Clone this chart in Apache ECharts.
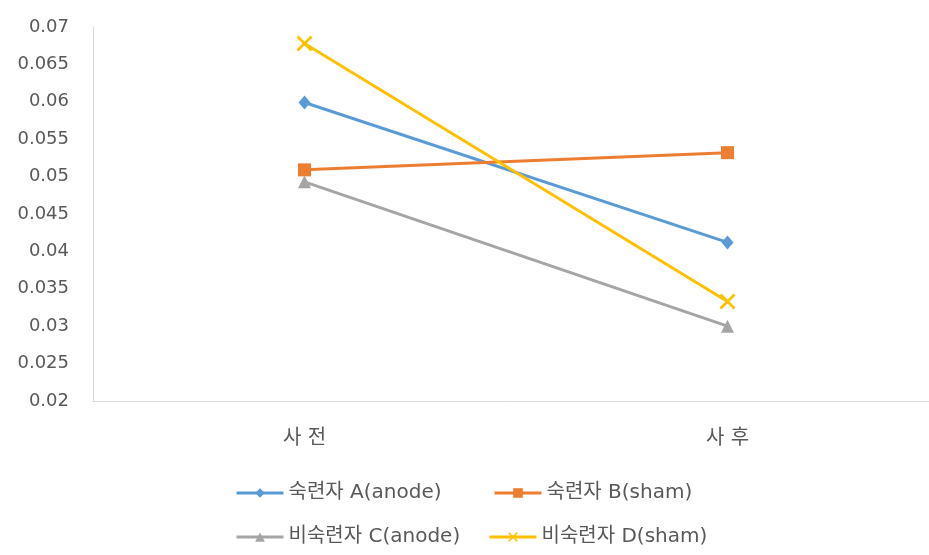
<!DOCTYPE html>
<html>
<head>
<meta charset="utf-8">
<script src="https://cdn.jsdelivr.net/npm/echarts@6/dist/echarts.min.js"></script>
<style>html,body{margin:0;padding:0;background:#fff}#c{width:929px;height:555px}</style>
</head>
<body>
<div id="c"></div>
<script>
const categories = ['사 전', '사 후'];
const seriesNames = ['숙련자 A(anode)', '숙련자 B(sham)', '비숙련자 C(anode)', '비숙련자 D(sham)'];
const valuesA = [0.0599, 0.0412];
const valuesB = [0.0509, 0.0532];
const valuesC = [0.0493, 0.0300];
const valuesD = [0.0678, 0.0333];
const yTicks = { min: 0.02, max: 0.07, interval: 0.005 };

const FONT = '"DejaVu Sans", "Noto Sans CJK KR", sans-serif';
const TXT = '#595959';
const colors = ['#5b9bd5', '#ed7d31', '#a5a5a5', '#ffc000'];
const xPath = 'path://M0,1.2L1.2,0L10,8.8L8.8,10Z M8.8,0L10,1.2L1.2,10L0,8.8Z';
const symbols = ['diamond', 'rect', 'triangle', xPath];
const symSizes = [[12, 14], 13, 13, 16];
const vals = [valuesA, valuesB, valuesC, valuesD];

const chart = echarts.init(document.getElementById('c'), null, { renderer: 'canvas' });

const legendPos = [
  { left: 235, top: 483 },
  { left: 493, top: 483 },
  { left: 235, top: 527 },
  { left: 488, top: 527 }
];

chart.setOption({
  animation: false,
  backgroundColor: '#fff',
  textStyle: { fontFamily: FONT },
  grid: { left: 93, right: -10, top: 27, bottom: 154, containLabel: false, outerBoundsMode: 'none' },
  legend: legendPos.map((p, i) => ({
    data: [seriesNames[i]],
    left: p.left,
    top: p.top,
    itemWidth: 47,
    itemHeight: 12,
    itemGap: 8,
    lineStyle: { width: 3 },
    textStyle: { color: TXT, fontSize: 20, fontFamily: FONT },
    padding: 0
  })),
  xAxis: {
    type: 'category',
    data: categories,
    boundaryGap: true,
    axisLine: { lineStyle: { color: '#d9d9d9', width: 1 } },
    axisTick: { show: false },
    axisLabel: { color: TXT, fontSize: 20, margin: 28, fontFamily: FONT }
  },
  yAxis: {
    type: 'value',
    min: yTicks.min,
    max: yTicks.max,
    interval: yTicks.interval,
    axisLine: { show: true, lineStyle: { color: '#d9d9d9', width: 1 } },
    axisTick: { show: false },
    splitLine: { show: false },
    axisLabel: {
      color: TXT, fontSize: 18, margin: 24, fontFamily: FONT,
      formatter: v => String(parseFloat(v.toFixed(3)))
    }
  },
  series: seriesNames.map((n, i) => ({
    name: n,
    type: 'line',
    data: vals[i],
    symbol: symbols[i],
    symbolSize: symSizes[i],
    showAllSymbol: true,
    lineStyle: { color: colors[i], width: 3 },
    itemStyle: { color: colors[i] },
    z: 2 + i
  }))
});
</script>
</body>
</html>
